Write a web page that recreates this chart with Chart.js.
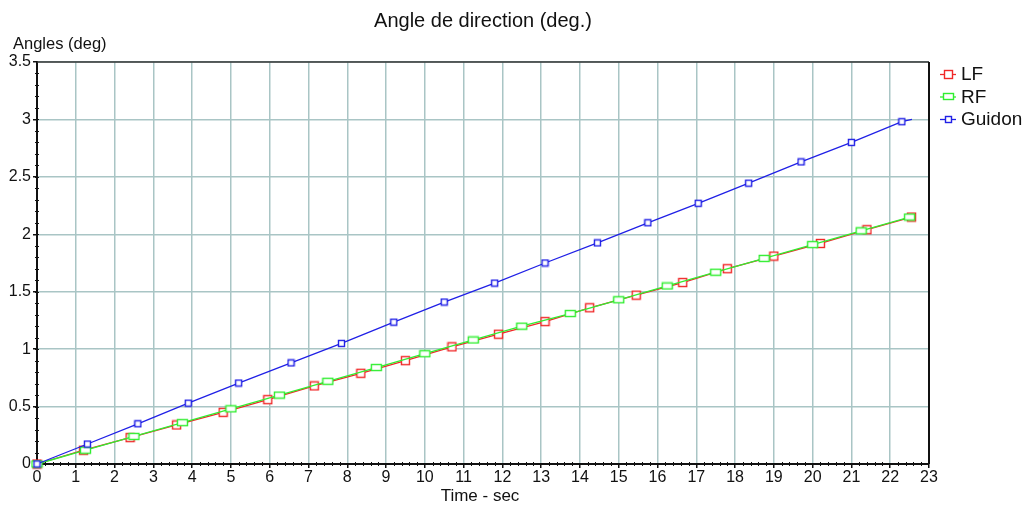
<!DOCTYPE html>
<html>
<head>
<meta charset="utf-8">
<script src="https://cdn.jsdelivr.net/npm/chart.js@4.4.1/dist/chart.umd.min.js"></script>
<style>
  html, body { margin: 0; padding: 0; background: #fff; }
  #wrap { width: 1026px; height: 507px; }
</style>
</head>
<body>
<div id="wrap"><canvas id="chart" width="1026" height="507"></canvas></div>
<script>
// Angle de direction vs temps
const lfTime = [0, 1.2, 2.4, 3.6, 4.8, 5.95, 7.15, 8.35, 9.5, 10.7, 11.9, 13.1, 14.25, 15.45, 16.65, 17.8, 19.0, 20.2, 21.4, 22.55]
const lfAngle = [0, 0.12, 0.23, 0.34, 0.45, 0.56, 0.68, 0.79, 0.90, 1.02, 1.13, 1.24, 1.36, 1.47, 1.58, 1.70, 1.81, 1.92, 2.04, 2.15]

const rfTime = [0, 1.25, 2.5, 3.75, 5.0, 6.25, 7.5, 8.75, 10.0, 11.25, 12.5, 13.75, 15.0, 16.25, 17.5, 18.75, 20.0, 21.25, 22.5]
const rfAngle = [0, 0.12, 0.24, 0.36, 0.48, 0.60, 0.72, 0.84, 0.96, 1.08, 1.20, 1.31, 1.43, 1.55, 1.67, 1.79, 1.91, 2.03, 2.15]

// last point is the end of the trace (no marker)
const guidonTime = [0, 1.3, 2.6, 3.9, 5.2, 6.55, 7.85, 9.2, 10.5, 11.8, 13.1, 14.45, 15.75, 17.05, 18.35, 19.7, 21.0, 22.3, 22.56]
const guidonAngle = [0, 0.174, 0.35, 0.53, 0.705, 0.88, 1.05, 1.235, 1.41, 1.575, 1.75, 1.925, 2.10, 2.27, 2.445, 2.63, 2.80, 2.98, 3.0]

const seriesNames = ['LF', 'RF', 'Guidon']
const xTicksMax = 23
const yTicksMax = 3.5

const COLORS = { LF: '#f02828', RF: '#30ee30', Guidon: '#2020e6' }
const GRID = '#a9c5c5'
const FONT = '"Liberation Sans", Arial, sans-serif'

function marker(color, w, h) {
    const c = document.createElement('canvas')
    c.width = w + 2
    c.height = h + 2
    const g = c.getContext('2d')
    g.fillStyle = '#fff'
    g.fillRect(1, 1, w, h)
    g.strokeStyle = color
    g.lineWidth = 1.4
    g.strokeRect(1.5, 1.5, w - 1, h - 1)
    return c
}

const markers = {
    LF: marker(COLORS.LF, 9, 9),
    RF: marker(COLORS.RF, 11, 7),
    Guidon: marker(COLORS.Guidon, 7, 7)
}

const toPoints = (xs, ys) => xs.map((x, i) => ({ x, y: ys[i] }))

// order: LF painted first, Guidon last
function makeSet(name, xs, ys, order, lastNoMarker) {
    return {
        label: name,
        data: toPoints(xs, ys),
        order: order,
        showLine: true,
        borderColor: COLORS[name],
        borderWidth: 1.3,
        backgroundColor: '#fff',
        pointStyle: markers[name],
        pointRadius: (ctx) => (lastNoMarker && ctx.dataIndex === xs.length - 1) ? 0 : 4,
        pointHoverRadius: 4,
        tension: 0,
        clip: false
    }
}

// minor ticks, frame, titles and legend
const decorations = {
    id: 'decorations',
    afterDraw(chart) {
        const { ctx, chartArea: a, scales } = chart
        const xs = scales.x, ys = scales.y
        ctx.save()

        ctx.strokeStyle = '#111'
        ctx.lineWidth = 1
        for (let v = 0.1; v < yTicksMax; v += 0.1) {
            const py = Math.round(ys.getPixelForValue(v)) + 0.5
            ctx.beginPath()
            ctx.moveTo(a.left - 2, py)
            ctx.lineTo(a.left + 2, py)
            ctx.stroke()
        }
        for (let v = 0.2; v < xTicksMax; v += 0.2) {
            if (Math.abs(v - Math.round(v)) < 0.01) continue
            const px = Math.round(xs.getPixelForValue(v)) + 0.5
            ctx.beginPath()
            ctx.moveTo(px, a.bottom - 2)
            ctx.lineTo(px, a.bottom + 2)
            ctx.stroke()
        }

        // top and right frame
        ctx.strokeStyle = '#333'
        ctx.lineWidth = 1.5
        ctx.beginPath()
        ctx.moveTo(a.left, a.top)
        ctx.lineTo(a.right, a.top)
        ctx.stroke()
        ctx.strokeStyle = '#111'
        ctx.lineWidth = 2
        ctx.beginPath()
        ctx.moveTo(a.right, a.top)
        ctx.lineTo(a.right, a.bottom)
        ctx.stroke()

        ctx.fillStyle = '#111'
        ctx.textBaseline = 'middle'
        ctx.textAlign = 'center'
        ctx.font = '20px ' + FONT
        ctx.fillText('Angle de direction (deg.)', 483, 21)
        ctx.font = '17px ' + FONT
        ctx.fillText('Time - sec', 480, 496)
        ctx.font = '16.5px ' + FONT
        ctx.textAlign = 'left'
        ctx.fillText('Angles (deg)', 13, 44)

        // legend
        chart.data.datasets.forEach((ds, i) => {
            const y = 74 + i * 22.5
            ctx.strokeStyle = ds.borderColor
            ctx.lineWidth = 1.3
            ctx.beginPath()
            ctx.moveTo(940, y + 0.5)
            ctx.lineTo(956, y + 0.5)
            ctx.stroke()
            const m = markers[ds.label]
            ctx.drawImage(m, Math.round(948 - m.width / 2), Math.round(y - m.height / 2))
            ctx.fillStyle = '#111'
            ctx.font = '19px ' + FONT
            ctx.fillText(ds.label, 961, y + 1)
        })
        ctx.restore()
    }
}

new Chart(document.getElementById('chart'), {
    type: 'scatter',
    data: {
        datasets: [
            makeSet(seriesNames[0], lfTime, lfAngle, 3, false),
            makeSet(seriesNames[1], rfTime, rfAngle, 2, false),
            makeSet(seriesNames[2], guidonTime, guidonAngle, 1, true)
        ]
    },
    options: {
        responsive: false,
        animation: false,
        devicePixelRatio: 1,
        layout: { padding: { top: 62, right: 97, left: 0, bottom: 0 } },
        plugins: {
            legend: { display: false },
            title: { display: false },
            tooltip: { enabled: false }
        },
        scales: {
            x: {
                type: 'linear',
                min: 0,
                max: xTicksMax,
                afterFit: (s) => { s.height = 43 },
                ticks: { stepSize: 1, color: '#111', font: { family: FONT, size: 16 }, padding: 0, maxRotation: 0 },
                grid: { color: GRID, lineWidth: 1.5, tickColor: '#111', tickLength: 4, drawTicks: true },
                border: { color: '#111', width: 2 }
            },
            y: {
                type: 'linear',
                min: 0,
                max: yTicksMax,
                afterFit: (s) => { s.width = 37 },
                ticks: { stepSize: 0.5, color: '#111', font: { family: FONT, size: 16 }, padding: 2, callback: (v) => String(v) },
                grid: { color: GRID, lineWidth: 1.5, tickColor: '#111', tickLength: 4, drawTicks: true },
                border: { color: '#111', width: 2 }
            }
        }
    },
    plugins: [decorations]
})
</script>
</body>
</html>
